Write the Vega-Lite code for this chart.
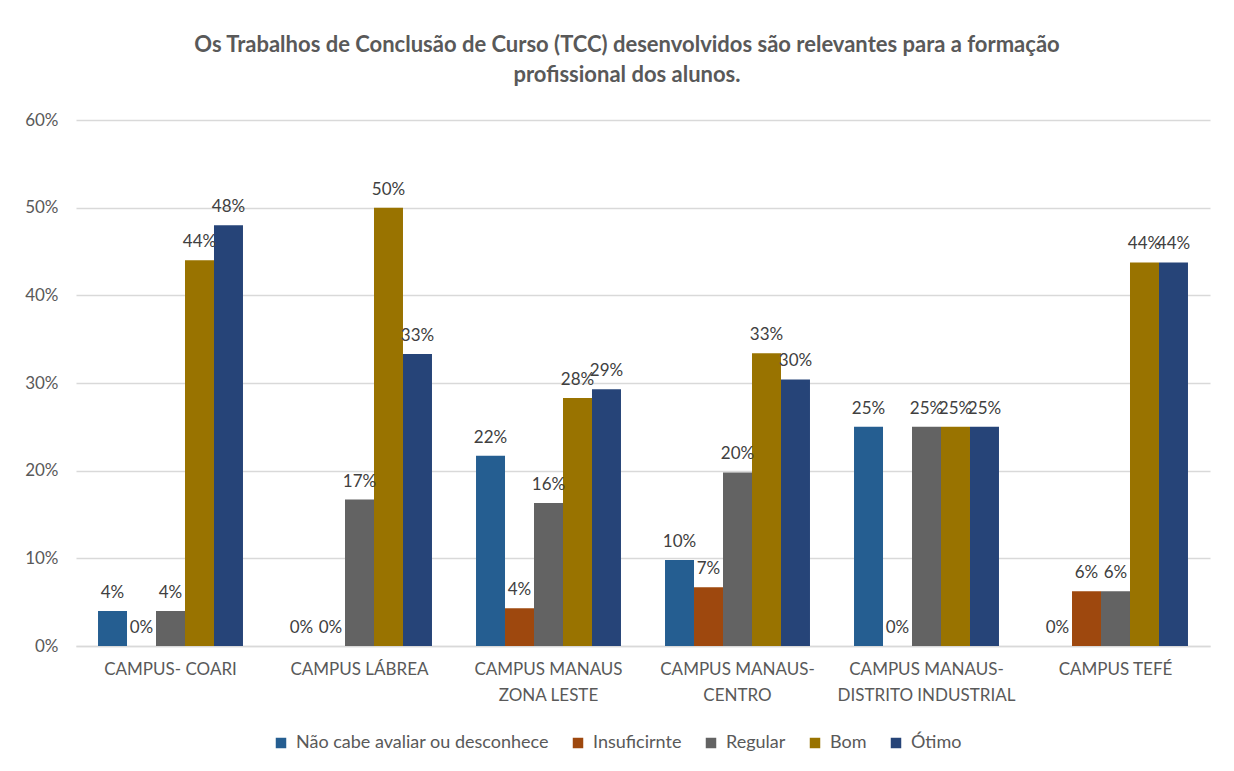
{
  "$schema": "https://vega.github.io/schema/vega-lite/v6.json",
  "autosize": {"type": "none"},
  "width": 1134,
  "height": 526,
  "padding": {"left": 76, "top": 120, "right": 24, "bottom": 125},
  "background": "white",
  "config": {
    "font": "Lato",
    "view": {"stroke": null}
  },
  "title": {
    "text": ["Os Trabalhos de Conclusão de Curso (TCC) desenvolvidos são relevantes para a formação", "profissional dos alunos."],
    "fontSize": 22,
    "fontWeight": "bold",
    "color": "#595959",
    "anchor": "middle",
    "dx": -16,
    "offset": 24,
    "lineHeight": 30
  },
  "data": {
    "values": [
      {"campus": "CAMPUS- COARI", "serie": "Não cabe avaliar ou desconhece", "value": 0.04},
      {"campus": "CAMPUS- COARI", "serie": "Insuficirnte", "value": 0},
      {"campus": "CAMPUS- COARI", "serie": "Regular", "value": 0.04},
      {"campus": "CAMPUS- COARI", "serie": "Bom", "value": 0.44},
      {"campus": "CAMPUS- COARI", "serie": "Ótimo", "value": 0.48},
      {"campus": "CAMPUS LÁBREA", "serie": "Não cabe avaliar ou desconhece", "value": 0},
      {"campus": "CAMPUS LÁBREA", "serie": "Insuficirnte", "value": 0},
      {"campus": "CAMPUS LÁBREA", "serie": "Regular", "value": 0.167},
      {"campus": "CAMPUS LÁBREA", "serie": "Bom", "value": 0.5},
      {"campus": "CAMPUS LÁBREA", "serie": "Ótimo", "value": 0.333},
      {"campus": "CAMPUS MANAUS|ZONA LESTE", "serie": "Não cabe avaliar ou desconhece", "value": 0.217},
      {"campus": "CAMPUS MANAUS|ZONA LESTE", "serie": "Insuficirnte", "value": 0.043},
      {"campus": "CAMPUS MANAUS|ZONA LESTE", "serie": "Regular", "value": 0.163},
      {"campus": "CAMPUS MANAUS|ZONA LESTE", "serie": "Bom", "value": 0.283},
      {"campus": "CAMPUS MANAUS|ZONA LESTE", "serie": "Ótimo", "value": 0.293},
      {"campus": "CAMPUS MANAUS-|CENTRO", "serie": "Não cabe avaliar ou desconhece", "value": 0.098},
      {"campus": "CAMPUS MANAUS-|CENTRO", "serie": "Insuficirnte", "value": 0.067},
      {"campus": "CAMPUS MANAUS-|CENTRO", "serie": "Regular", "value": 0.198},
      {"campus": "CAMPUS MANAUS-|CENTRO", "serie": "Bom", "value": 0.334},
      {"campus": "CAMPUS MANAUS-|CENTRO", "serie": "Ótimo", "value": 0.304},
      {"campus": "CAMPUS MANAUS-|DISTRITO INDUSTRIAL", "serie": "Não cabe avaliar ou desconhece", "value": 0.25},
      {"campus": "CAMPUS MANAUS-|DISTRITO INDUSTRIAL", "serie": "Insuficirnte", "value": 0},
      {"campus": "CAMPUS MANAUS-|DISTRITO INDUSTRIAL", "serie": "Regular", "value": 0.25},
      {"campus": "CAMPUS MANAUS-|DISTRITO INDUSTRIAL", "serie": "Bom", "value": 0.25},
      {"campus": "CAMPUS MANAUS-|DISTRITO INDUSTRIAL", "serie": "Ótimo", "value": 0.25},
      {"campus": "CAMPUS TEFÉ", "serie": "Não cabe avaliar ou desconhece", "value": 0},
      {"campus": "CAMPUS TEFÉ", "serie": "Insuficirnte", "value": 0.0625},
      {"campus": "CAMPUS TEFÉ", "serie": "Regular", "value": 0.0625},
      {"campus": "CAMPUS TEFÉ", "serie": "Bom", "value": 0.4375},
      {"campus": "CAMPUS TEFÉ", "serie": "Ótimo", "value": 0.4375}
    ]
  },
  "encoding": {
    "x": {
      "field": "campus",
      "type": "nominal",
      "sort": null,
      "title": null,
      "scale": {"paddingInner": 0.233, "paddingOuter": 0.1165},
      "axis": {
        "labelAngle": 0,
        "labelExpr": "split(datum.value, '|')",
        "labelFontSize": 17,
        "labelColor": "#595959",
        "labelPadding": 15,
        "labelLineHeight": 26,
        "ticks": false,
        "domainColor": "#d9d9d9",
        "domainWidth": 1.5
      }
    },
    "xOffset": {
      "field": "serie",
      "type": "nominal",
      "scale": {"domain": ["Não cabe avaliar ou desconhece", "Insuficirnte", "Regular", "Bom", "Ótimo"], "paddingInner": 0, "paddingOuter": 0}
    },
    "y": {
      "field": "value",
      "type": "quantitative",
      "title": null,
      "scale": {"domain": [0, 0.6], "nice": false},
      "axis": {
        "format": ".0%",
        "values": [0, 0.1, 0.2, 0.3, 0.4, 0.5, 0.6],
        "labelOverlap": false,
        "labelFontSize": 17,
        "labelColor": "#595959",
        "labelPadding": 18,
        "ticks": false,
        "domain": false,
        "gridColor": "#d9d9d9",
        "gridWidth": 1.3
      }
    }
  },
  "layer": [
    {
      "mark": {"type": "bar"},
      "encoding": {
        "color": {
          "field": "serie",
          "type": "nominal",
          "title": null,
          "scale": {
            "domain": ["Não cabe avaliar ou desconhece", "Insuficirnte", "Regular", "Bom", "Ótimo"],
            "range": ["#255E91", "#9E480E", "#636363", "#997300", "#264478"]
          },
          "legend": {
            "orient": "none",
            "direction": "horizontal",
            "legendX": 196,
            "legendY": 614,
            "symbolType": "square",
            "symbolSize": 110,
            "symbolStrokeWidth": 0,
            "labelFontSize": 18,
            "labelLimit": 500,
            "labelColor": "#595959",
            "columnPadding": 20,
            "labelOffset": 6
          }
        }
      }
    },
    {
      "mark": {"type": "text", "baseline": "bottom", "dy": -9, "fontSize": 17, "color": "#404040"},
      "encoding": {
        "text": {"field": "value", "type": "quantitative", "format": ".0%"}
      }
    }
  ]
}
